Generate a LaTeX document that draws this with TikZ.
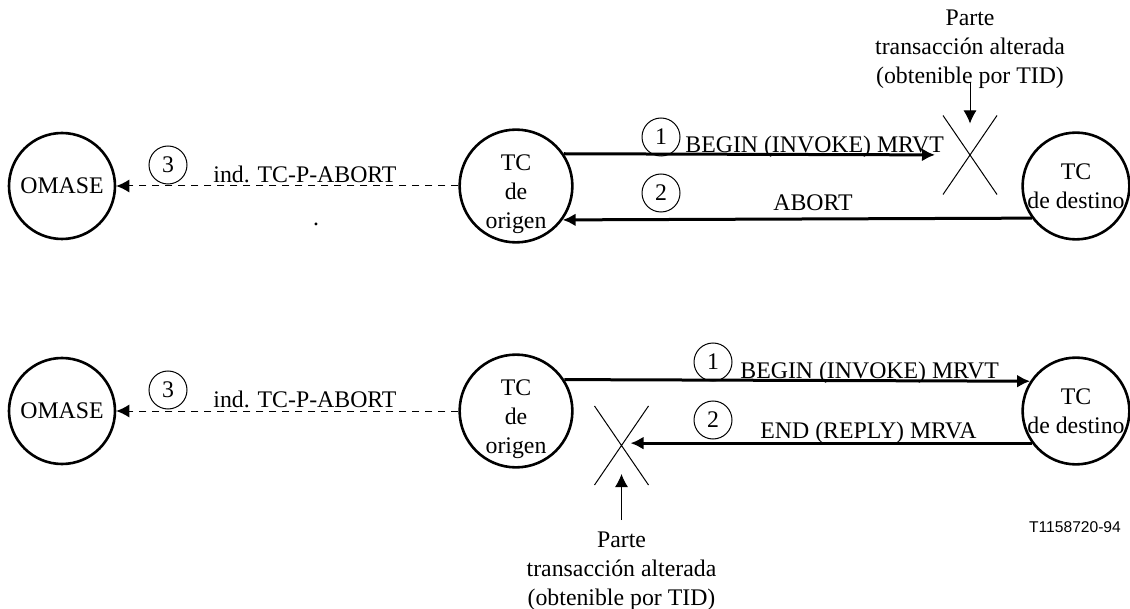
\documentclass[tikz,border=0pt]{standalone}
\usepackage{fontspec}
\setmainfont{Liberation Serif}
\newfontfamily\codefont{Liberation Sans}
\usetikzlibrary{positioning,arrows.meta,shapes.misc}

\begin{document}
\begin{tikzpicture}[x=0.5pt,y=0.5pt,
	font=\fontsize{11.9}{14.5}\selectfont,
	stnode/.style={circle, draw=black, line width=1.3pt, minimum size=53pt, inner sep=0pt, align=center},
	numnode/.style={circle, draw=black, line width=0.5pt, minimum size=19pt, inner sep=0pt},
	xnode/.style={cross out, draw=black, line width=0.5pt, minimum width=26.5pt, minimum height=39pt, inner sep=0pt},
	notenode/.style={inner sep=0pt, align=center},
	msgnode/.style={anchor=base west, inner sep=0pt},
	flow/.style={line width=1.5pt, -{Latex[length=6.5pt,width=6.5pt]}},
	indflow/.style={line width=0.5pt, dash pattern=on 3.5pt off 3pt, -{Latex[length=6.5pt,width=6.5pt]}},
	pointer/.style={line width=0.5pt, -{Latex[length=6.5pt,width=6.5pt]}}]
	\useasboundingbox (0,0) rectangle (1130,-609);
	% first case: MRVT lost on the way to the destination
	\node[stnode] (omase1) at (62,-186) {OMASE};
	\node[stnode] (origen1) at (516,-186) {\rule{0pt}{16pt}TC\\de\\origen};
	\node[stnode] (destino1) at (1076,-186) {TC\\de destino};
	\node[xnode] (corte1) at (970,-155) {};
	\node[notenode] (nota1) [above=13.5pt of corte1] {Parte\\transacción alterada\\(obtenible por TID)};
	\node[numnode] (n1a) at (661,-137) {1};
	\node[numnode] (n2a) at (661,-193) {2};
	\node[numnode] (n3a) at (168,-165) {3};
	\node[msgnode] (m1a) at (685,-153) {BEGIN (INVOKE) MRVT};
	\node[msgnode] (m2a) at (773,-211) {ABORT};
	\node[msgnode] (m3a) at (213,-183) {ind. TC-P-ABORT};
	\node[inner sep=0pt] (punto) at (316,-224) {.};
	\draw[flow] (origen1.34) -- (corte1) [shorten >=4pt];
	\draw[flow] (destino1.216) -- (origen1.-36);
	\draw[indflow] (origen1) -- (omase1);
	\draw[pointer] (nota1.south) -- (corte1.north) [shorten <=-3pt, shorten >=-4pt];
	% second case: MRVA lost on the way back
	\node[stnode] (omase2) at (62,-411) {OMASE};
	\node[stnode] (origen2) at (516,-411) {\rule{0pt}{16pt}TC\\de\\origen};
	\node[stnode] (destino2) at (1076,-411) {TC\\de destino};
	\node[xnode] (corte2) at (621.5,-445.5) {};
	\node[notenode] (nota2) [below=23.5pt of corte2] {Parte\\transacción alterada\\(obtenible por TID)};
	\node[numnode] (n1b) at (713,-362) {1};
	\node[numnode] (n2b) at (713,-420) {2};
	\node[numnode] (n3b) at (168,-390) {3};
	\node[msgnode] (m1b) at (740,-379) {BEGIN (INVOKE) MRVT};
	\node[msgnode] (m2b) at (760,-438) {END (REPLY) MRVA};
	\node[msgnode] (m3b) at (213,-408) {ind. TC-P-ABORT};
	\draw[flow] (origen2.33) -- (destino2.147);
	\draw[flow] (destino2.216) -- (corte2.center |- destino2.216) [shorten >=4.5pt];
	\draw[indflow] (origen2) -- (omase2);
	\draw[pointer] (nota2.north) -- (corte2.south) [shorten <=6pt, shorten >=-5.5pt];
	\node[font=\codefont\fontsize{7.8}{9}\selectfont] (ref) at (1075,-527) {T1158720-94};
\end{tikzpicture}
\end{document}
